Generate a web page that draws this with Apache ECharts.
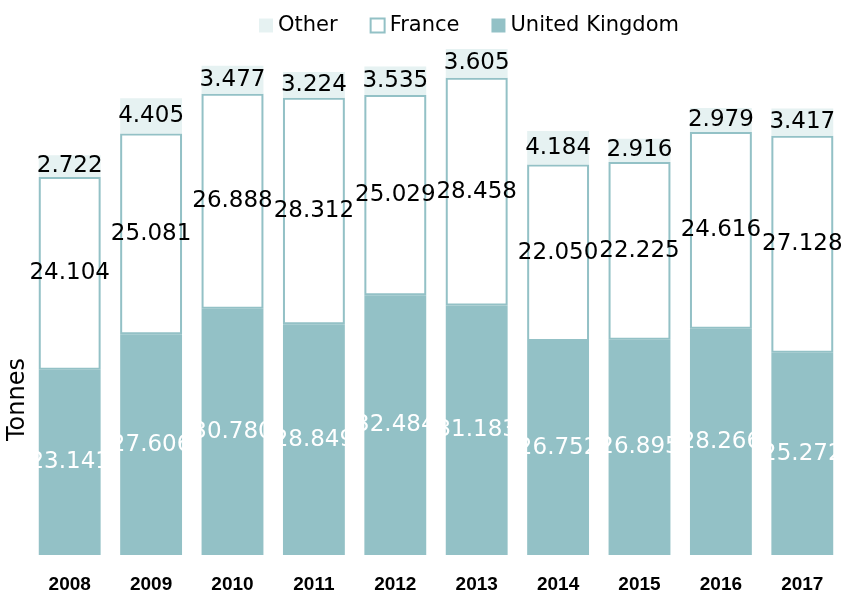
<!DOCTYPE html>
<html>
<head>
<meta charset="utf-8">
<script src="https://cdn.jsdelivr.net/npm/echarts@6/dist/echarts.min.js"></script>
<style>
  html, body { margin: 0; padding: 0; background: #fff; }
  #chart { width: 843px; height: 594px; }
</style>
</head>
<body>
<div id="chart"></div>
<script>
  var years = ['2008', '2009', '2010', '2011', '2012', '2013', '2014', '2015', '2016', '2017'];
  var ukValues = [23.141, 27.606, 30.780, 28.849, 32.484, 31.183, 26.752, 26.895, 28.266, 25.272];
  var franceValues = [24.104, 25.081, 26.888, 28.312, 25.029, 28.458, 22.050, 22.225, 24.616, 27.128];
  var otherValues = [2.722, 4.405, 3.477, 3.224, 3.535, 3.605, 4.184, 2.916, 2.979, 3.417];

  var teal = '#93c1c6';
  var pale = '#e6f2f2';
  var font = 'DejaVu Sans';

  function fmt(p) {
    return p.value.toFixed(3);
  }

  function barLabel(color) {
    return {
      show: true,
      position: 'inside',
      formatter: fmt,
      color: color,
      fontSize: 23,
      fontFamily: font
    };
  }

  var chart = echarts.init(document.getElementById('chart'));
  chart.setOption({
    animation: false,
    textStyle: { fontFamily: font },
    legend: {
      top: 10,
      left: 254,
      icon: 'rect',
      itemWidth: 14,
      itemHeight: 14,
      itemGap: 32,
      textStyle: { fontSize: 21, color: '#000', fontFamily: font },
      data: ['Other', 'France', 'United Kingdom']
    },
    grid: {
      left: 29,
      width: 817,
      top: 35,
      bottom: 39
    },
    xAxis: {
      type: 'category',
      data: years,
      axisLine: { show: false },
      axisTick: { show: false },
      axisLabel: {
        margin: 20,
        fontSize: 19,
        fontWeight: 'bold',
        color: '#000',
        fontFamily: 'Liberation Sans'
      }
    },
    yAxis: {
      type: 'value',
      min: 0,
      max: 65,
      show: false
    },
    graphic: [{
      type: 'text',
      x: 6,
      y: 441,
      rotation: Math.PI / 2,
      style: {
        text: 'Tonnes',
        fontSize: 24,
        fontFamily: font,
        fill: '#000'
      }
    }],
    series: [
      {
        name: 'United Kingdom',
        type: 'bar',
        stack: 'total',
        barCategoryGap: '24%',
        data: ukValues,
        itemStyle: { color: teal },
        label: barLabel('#fff')
      },
      {
        name: 'France',
        type: 'bar',
        stack: 'total',
        data: franceValues,
        itemStyle: { color: '#fff', borderColor: teal, borderWidth: 2 },
        label: barLabel('#000')
      },
      {
        name: 'Other',
        type: 'bar',
        stack: 'total',
        data: otherValues,
        itemStyle: { color: pale },
        label: barLabel('#000')
      }
    ]
  });
</script>
</body>
</html>
